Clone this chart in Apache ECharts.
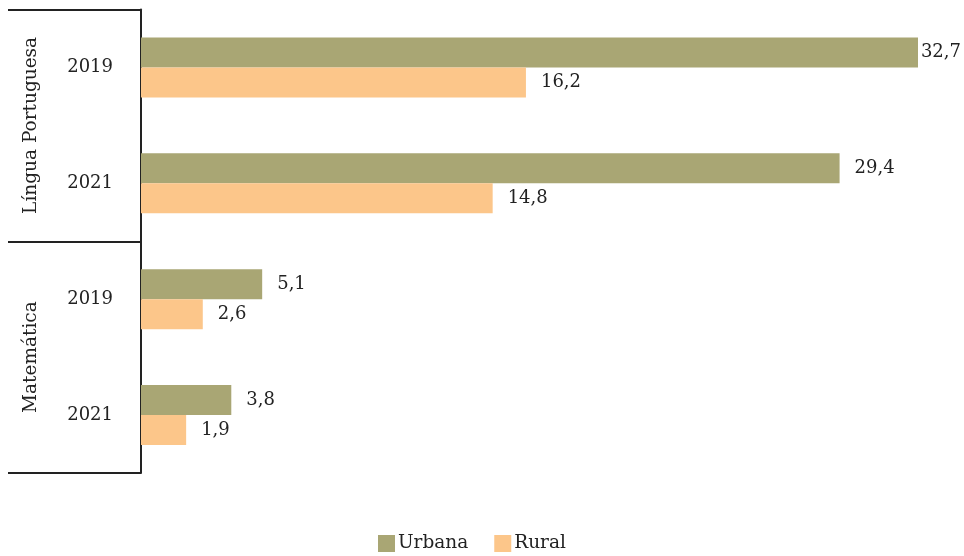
<!DOCTYPE html>
<html><head><meta charset="utf-8">
<script src="https://cdn.jsdelivr.net/npm/echarts@6/dist/echarts.min.js"></script>
<style>html,body{margin:0;padding:0;background:#fff}#c{width:964px;height:556px}</style>
</head><body><div id="c"></div>
<script>
var groups = ['Língua Portuguesa', 'Matemática'];
var years = ['2019', '2021', '2019', '2021'];
var categories = ['LP-2019', 'LP-2021', 'MAT-2019', 'MAT-2021'];
var urbana = [32.7, 29.4, 5.1, 3.8];
var rural = [16.2, 14.8, 2.6, 1.9];
var seriesNames = ['Urbana', 'Rural'];

var FONT = 'DejaVu Serif';
var W = 964;
var chart = echarts.init(document.getElementById('c'));
function fmt(p){ return String(p.value).replace('.', ','); }
function keepInside(p){
  var r = p.labelRect;
  if (r.x + r.width > W - 3) {
    return { x: W - 3 - r.width, y: r.y + r.height / 2, align: 'left', verticalAlign: 'middle' };
  }
}
chart.setOption({
  animation: false,
  textStyle: { fontFamily: FONT },
  grid: { left: 141, right: 46, top: 9.5, bottom: 83, containLabel: false },
  legend: {
    top: 529, left: 373,
    icon: 'rect', itemWidth: 17, itemHeight: 17, itemGap: 26,
    textStyle: { fontFamily: FONT, fontSize: 18.5, color: '#222', padding: [0,0,0,-2] },
    data: seriesNames
  },
  xAxis: { type: 'value', min: 0, max: 32.7, show: false },
  yAxis: [
    {
      type: 'category', inverse: true, data: categories,
      axisLine: { show: true, lineStyle: { color: '#222', width: 2 } },
      axisTick: { show: false },
      axisLabel: {
        margin: 28, fontFamily: FONT, fontSize: 18, color: '#222',
        formatter: function(v, i){ return years[i]; }
      }
    },
    {
      type: 'category', inverse: true, data: groups, position: 'left',
      axisLine: { show: false },
      axisTick: { show: true, length: 133, interval: 0, lineStyle: { color: '#222', width: 2 } },
      axisLabel: { rotate: 90, margin: 100, fontFamily: FONT, fontSize: 18.5, color: '#222', interval: 0 }
    }
  ],
  series: [
    {
      name: seriesNames[0], type: 'bar', data: urbana, yAxisIndex: 0,
      barWidth: 30, barGap: '0%',
      itemStyle: { color: '#a9a674' },
      label: { show: true, position: 'right', distance: 15, fontFamily: FONT, fontSize: 18, color: '#222', formatter: fmt },
      labelLayout: keepInside
    },
    {
      name: seriesNames[1], type: 'bar', data: rural, yAxisIndex: 0,
      barWidth: 30, barGap: '0%',
      itemStyle: { color: '#fcc68a' },
      label: { show: true, position: 'right', distance: 15, fontFamily: FONT, fontSize: 18, color: '#222', formatter: fmt },
      labelLayout: keepInside
    }
  ]
});
</script></body></html>
